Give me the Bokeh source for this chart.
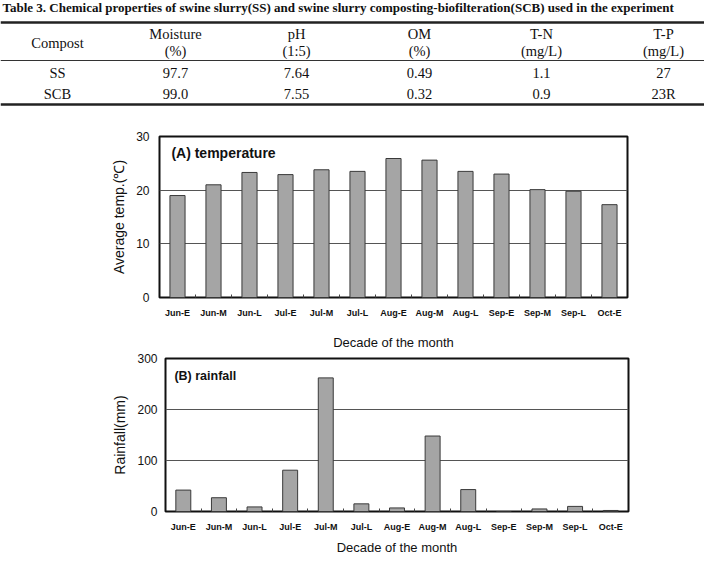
import numpy as np
from bokeh.plotting import figure
from bokeh.layouts import column
from bokeh.models import Range1d, FixedTicker, ColumnDataSource, Label
from bokeh.core.properties import value
from bokeh.embed import file_html
from bokeh.resources import INLINE

# ---------------- data ----------------
table_title = ("Table 3. Chemical properties of swine slurry(SS) and swine slurry "
               "composting-biofilteration(SCB) used in the experiment")
col_names = ["Moisture", "pH", "OM", "T-N", "T-P"]
col_units = ["(%)", "(1:5)", "(%)", "(mg/L)", "(mg/L)"]
row_names = ["SS", "SCB"]
row_ss = ["97.7", "7.64", "0.49", "1.1", "27"]
row_scb = ["99.0", "7.55", "0.32", "0.9", "23R"]

decades = ["Jun-E", "Jun-M", "Jun-L", "Jul-E", "Jul-M", "Jul-L", "Aug-E",
           "Aug-M", "Aug-L", "Sep-E", "Sep-M", "Sep-L", "Oct-E"]
temperature = [19.0, 21.0, 23.3, 22.9, 23.8, 23.5, 25.9, 25.6, 23.5, 23.0, 20.1, 19.8, 17.3]
rainfall = [42, 27, 9, 81, 262, 15, 7, 148, 43, 0, 5, 10, 2]
temp_ticks = [0, 10, 20, 30]
rain_ticks = [0, 100, 200, 300]

W = 704
SERIF = value("Liberation Serif")
SANS = "Liberation Sans"

# ---------------- table ----------------
TH = 112
t = figure(width=W, height=TH, x_range=Range1d(0, W), y_range=Range1d(TH, 0),
           output_backend="svg", toolbar_location=None, min_border=0,
           x_axis_location=None, y_axis_location=None, frame_align=False)
t.outline_line_color = None
t.xgrid.grid_line_color = None
t.ygrid.grid_line_color = None

t.text(x=[2], y=[7], text=[table_title], text_font=SERIF, text_font_style="bold",
       text_font_size="13px", text_baseline="middle", text_align="left", text_color="#111")
t.hspan(y=[22, 104], line_color="#222", line_width=2.5)
t.hspan(y=[60], line_color="#333", line_width=1)

col_x = [175, 296, 419, 541, 663]
first_x = 57
FS = "14.5px"
t.text(x=[first_x], y=[42], text=["Compost"], text_font=SERIF, text_font_size=FS,
       text_align="center", text_baseline="middle", text_color="#111")
hdr = ColumnDataSource(dict(x=col_x, n=col_names, u=col_units))
t.text(x="x", y=33, text="n", source=hdr, text_font=SERIF, text_font_size=FS,
       text_align="center", text_baseline="middle", text_color="#111")
t.text(x="x", y=50, text="u", source=hdr, text_font=SERIF, text_font_size=FS,
       text_align="center", text_baseline="middle", text_color="#111")
row_y = [72, 93]
t.text(x=[first_x] * 2, y=row_y, text=row_names, text_font=SERIF, text_font_size=FS,
       text_align="center", text_baseline="middle", text_color="#111")
for ry, vals in zip(row_y, [row_ss, row_scb]):
    t.text(x=col_x, y=[ry] * len(vals), text=vals, text_font=SERIF, text_font_size=FS,
           text_align="center", text_baseline="middle", text_color="#111")


# ---------------- bar charts ----------------
def bar_chart(vals, ticks, ylabel, title, height, bl, br, bt, bb, lab_standoff,
              xlab_standoff, title_xy, title_size):
    n = len(decades)
    centers = list(np.arange(n) + 0.5)
    p = figure(width=W, height=height, x_range=Range1d(0, n),
               y_range=Range1d(ticks[0], ticks[-1]),
               output_backend="svg", toolbar_location=None, frame_align=False,
               min_border_left=bl, min_border_right=br,
               min_border_top=bt, min_border_bottom=bb)
    src = ColumnDataSource(dict(x=centers, top=vals))
    p.vbar(x="x", top="top", width=0.42, bottom=0, source=src,
           fill_color="#a5a5a5", line_color="#3a3a3a", line_width=1)
    p.outline_line_color = "#111"
    p.outline_line_width = 2
    p.xgrid.grid_line_color = None
    p.ygrid.grid_line_color = "#555"
    p.ygrid.grid_line_width = 1.2
    p.ygrid.ticker = FixedTicker(ticks=ticks)

    xa = p.xaxis[0]
    xa.ticker = FixedTicker(ticks=centers, minor_ticks=list(range(1, n)))
    xa.major_label_overrides = {c: d for c, d in zip(centers, decades)}
    xa.axis_line_color = None
    xa.major_tick_in = 0
    xa.major_tick_out = 0
    xa.minor_tick_in = 3
    xa.minor_tick_out = 0
    xa.minor_tick_line_color = "#444"
    xa.major_label_text_font = SANS
    xa.major_label_text_font_style = "bold"
    xa.major_label_text_font_size = "9px"
    xa.major_label_text_color = "#111"
    xa.major_label_standoff = 10
    xa.axis_label = "Decade of the month"
    xa.axis_label_text_font = SANS
    xa.axis_label_text_font_style = "normal"
    xa.axis_label_text_font_size = "13px"
    xa.axis_label_text_color = "#111"
    xa.axis_label_standoff = xlab_standoff

    ya = p.yaxis[0]
    ya.ticker = FixedTicker(ticks=ticks)
    ya.axis_line_color = None
    ya.major_tick_in = 0
    ya.major_tick_out = 0
    ya.minor_tick_line_color = None
    ya.major_label_text_font = SANS
    ya.major_label_text_font_size = "12px"
    ya.major_label_text_color = "#111"
    ya.major_label_standoff = lab_standoff
    ya.axis_label = ylabel
    ya.axis_label_text_font = SANS
    ya.axis_label_text_font_style = "normal"
    ya.axis_label_text_font_size = "14px"
    ya.axis_label_text_color = "#111"
    ya.axis_label_standoff = 6

    p.add_layout(Label(x=title_xy[0], y=title_xy[1], text=title,
                       text_font=SANS, text_font_style="bold",
                       text_font_size=title_size, text_baseline="middle",
                       text_color="#111"))
    return p


# chart A: frame 159..627 (x), 136..299 (y) ; fig spans y 112..352
pa = bar_chart(temperature, temp_ticks, "Average temp.(℃)", "(A) temperature",
               240, 159, 77, 24, 53, 10, 14, (0.33, 27.0), "14px")
# chart B: frame 165..628 (x), 358..514 (y) ; fig spans y 352..557
pb = bar_chart(rainfall, rain_ticks, "Rainfall(mm)", "(B) rainfall",
               205, 165, 76, 6, 43, 8, 5, (0.25, 265), "12.5px")

layout = column(t, pa, pb, spacing=0)
open("out.html", "w").write(file_html(layout, INLINE))
